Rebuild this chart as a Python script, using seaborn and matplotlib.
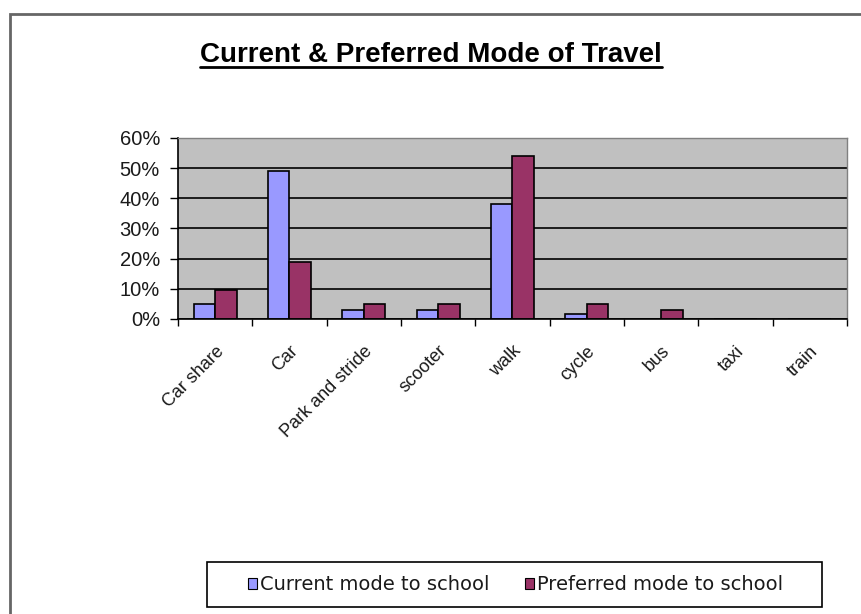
import pandas as pd
import numpy as np
import matplotlib.pyplot as plt
import seaborn as sns
from matplotlib.patches import Rectangle
from matplotlib.lines import Line2D
from matplotlib.ticker import MultipleLocator, PercentFormatter

modes = ['Car share', 'Car', 'Park and stride', 'scooter', 'walk',
         'cycle', 'bus', 'taxi', 'train']
current = [5, 49, 3, 3, 38, 1.5, 0, 0, 0]
preferred = [9.5, 19, 5, 5, 54, 5, 3, 0, 0]
series = ['Current mode to school', 'Preferred mode to school']
colors = ['#9999FF', '#993366']

df = pd.DataFrame({'mode': modes * 2,
                   'value': current + preferred,
                   'series': [series[0]] * len(modes) + [series[1]] * len(modes)})

sns.set_style('white')
plt.rcParams['font.family'] = ['Liberation Sans', 'DejaVu Sans']
plt.rcParams['text.color'] = 'black'

fig = plt.figure(figsize=(8.62, 6.14), dpi=100)
ax = fig.add_axes([0.2065, 0.4805, 0.776, 0.2948])
ax.set_facecolor('#C0C0C0')

sns.barplot(data=df, x='mode', y='value', hue='series', order=modes,
            palette=colors, width=0.58, edgecolor='black', linewidth=1.2,
            saturation=1, ax=ax, legend=False)

ax.set_ylim(0, 60)
ax.set_xlim(-0.5, len(modes) - 0.5)
ax.yaxis.set_major_locator(MultipleLocator(10))
ax.yaxis.set_major_formatter(PercentFormatter(decimals=0))
ax.grid(axis='y', color='black', linewidth=1.2)
ax.set_axisbelow(True)
ax.set_xlabel('')
ax.set_ylabel('')

# category separators as minor x ticks
ax.set_xticks(np.arange(len(modes)))
ax.set_xticklabels(modes, rotation=45, ha='right', rotation_mode='anchor',
                   fontsize=13, color='#1a1a1a')
ax.set_xticks(np.arange(len(modes) + 1) - 0.5, minor=True)
ax.tick_params(axis='x', which='major', length=0, pad=17)
ax.tick_params(axis='x', which='minor', length=5, width=1, color='black', direction='out', bottom=True)
ax.tick_params(axis='y', length=6, width=1, color='black', direction='out', left=True,
               labelsize=14.5, pad=7, labelcolor='#1a1a1a')

for side in ['top', 'right']:
    ax.spines[side].set_color('#808080')
    ax.spines[side].set_linewidth(1)
ax.spines['left'].set_color('black')
ax.spines['bottom'].set_color('black')
ax.spines['left'].set_linewidth(1.2)
ax.spines['bottom'].set_linewidth(1.2)

# title with underline
t = fig.text(0.5, 0.911, 'Current & Preferred Mode of Travel', ha='center', va='center',
             fontsize=20, fontweight='bold', color='black')
fig.canvas.draw()
bb = t.get_window_extent().transformed(fig.transFigure.inverted())
fig.add_artist(Line2D([bb.x0, bb.x1], [bb.y0 + 0.001, bb.y0 + 0.001], color='black', lw=2))

# legend (frame drawn separately, like the Excel box)
handles = [Rectangle((0, 0), 1, 1, facecolor=c, edgecolor='black', lw=0.8) for c in colors]
leg = fig.legend(handles, series, loc='center left', bbox_to_anchor=(248 / 862, 1 - 585 / 614),
                 ncol=2, frameon=False, prop={'family': 'DejaVu Sans', 'size': 14},
                 handlelength=0.45, handleheight=0.45, handletextpad=0.15,
                 columnspacing=1.85, borderpad=0, borderaxespad=0)
for txt in leg.get_texts():
    txt.set_color('#1a1a1a')
fig.add_artist(Rectangle((207 / 862, 1 - 607 / 614), 615 / 862, 45 / 614,
                         transform=fig.transFigure, fill=False,
                         edgecolor='black', lw=1.2))

# outer chart border
fig.add_artist(Rectangle((10 / 862, -0.05), 1.2, 1 - 14 / 614 + 0.05,
                         transform=fig.transFigure, fill=False,
                         edgecolor='#666666', lw=2))

fig.savefig('out.png', dpi=100)
